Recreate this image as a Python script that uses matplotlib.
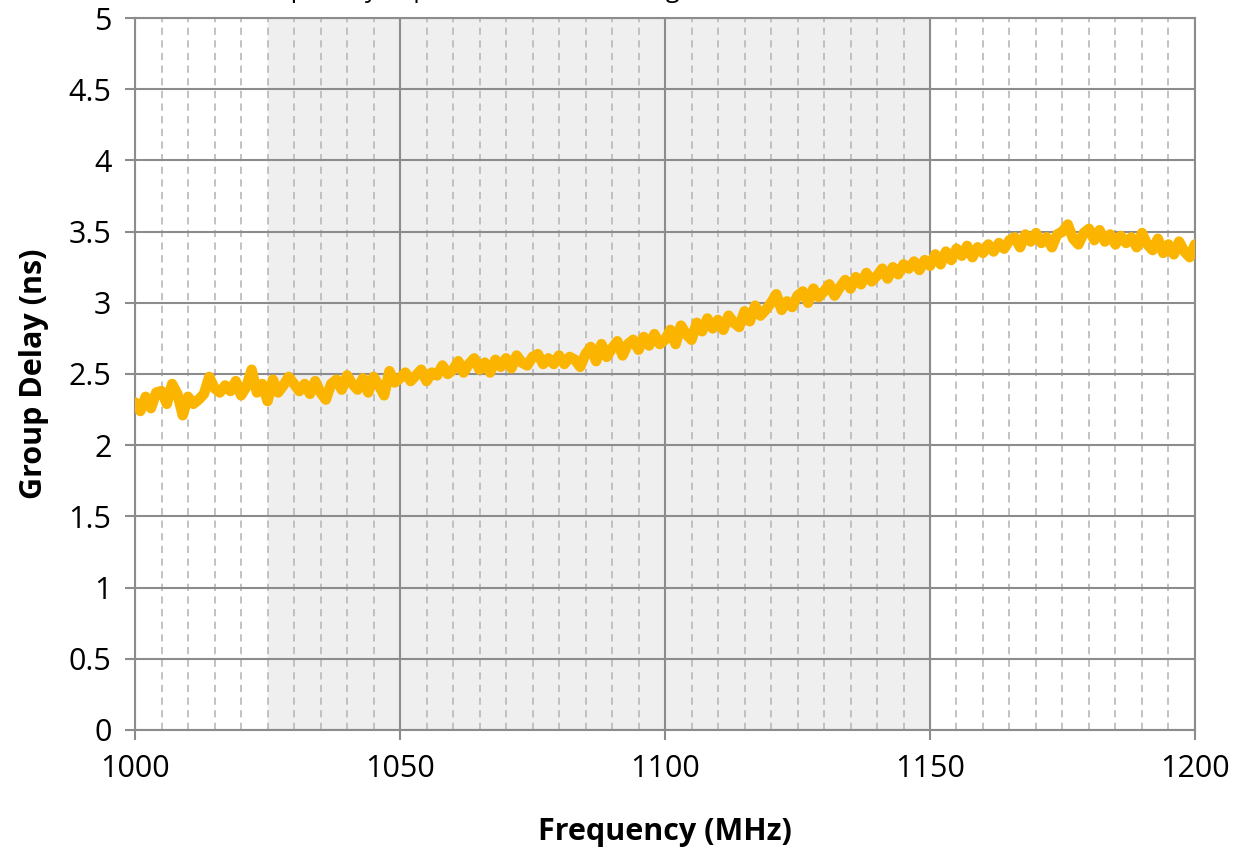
import numpy as np
import matplotlib.pyplot as plt
from matplotlib.ticker import MultipleLocator

plt.rcParams['font.family'] = ['Open Sans', 'DejaVu Sans']

# frequency axis, 1 MHz steps
freq = np.arange(1000, 1201, 1)

# group delay (ns)
delay = [
    2.30, 2.24, 2.34, 2.26, 2.37, 2.38, 2.29, 2.43, 2.36, 2.21,
    2.34, 2.29, 2.32, 2.36, 2.48, 2.40, 2.37, 2.42, 2.38, 2.45,
    2.35, 2.41, 2.53, 2.37, 2.43, 2.31, 2.46, 2.37, 2.42, 2.48,
    2.43, 2.38, 2.43, 2.36, 2.45, 2.37, 2.32, 2.43, 2.46, 2.39,
    2.49, 2.43, 2.39, 2.47, 2.37, 2.48, 2.42, 2.35, 2.52, 2.44,
    2.47, 2.51, 2.45, 2.49, 2.53, 2.45, 2.51, 2.49, 2.56, 2.50,
    2.53, 2.59, 2.51, 2.57, 2.61, 2.53, 2.58, 2.51, 2.60, 2.55,
    2.61, 2.54, 2.63, 2.58, 2.56, 2.62, 2.64, 2.57, 2.61, 2.57,
    2.63, 2.57, 2.62, 2.60, 2.55, 2.64, 2.69, 2.59, 2.71, 2.62,
    2.68, 2.73, 2.63, 2.71, 2.74, 2.67, 2.76, 2.70, 2.78, 2.71,
    2.74, 2.81, 2.71, 2.84, 2.78, 2.74, 2.86, 2.80, 2.89, 2.82,
    2.88, 2.81, 2.91, 2.86, 2.83, 2.94, 2.87, 2.98, 2.91, 2.95,
    3.00, 3.06, 2.95, 3.01, 2.97, 3.05, 3.08, 3.00, 3.10, 3.04,
    3.08, 3.13, 3.05, 3.11, 3.16, 3.10, 3.18, 3.13, 3.21, 3.15,
    3.19, 3.24, 3.17, 3.25, 3.20, 3.27, 3.24, 3.29, 3.23, 3.30,
    3.26, 3.34, 3.27, 3.36, 3.30, 3.38, 3.33, 3.40, 3.32, 3.39,
    3.35, 3.41, 3.36, 3.42, 3.38, 3.44, 3.46, 3.39, 3.48, 3.43,
    3.49, 3.42, 3.46, 3.39, 3.48, 3.50, 3.55, 3.45, 3.41, 3.49,
    3.52, 3.44, 3.51, 3.43, 3.48, 3.41, 3.47, 3.42, 3.46, 3.39,
    3.49, 3.41, 3.37, 3.45, 3.35, 3.41, 3.34, 3.43, 3.36, 3.32,
    3.41,
]

band = (1025, 1150)  # shaded passband

fig = plt.figure(figsize=(12.4, 8.5), dpi=100)
ax = fig.add_axes([0.1089, 0.1412, 0.8548, 0.8376])

ax.axvspan(band[0], band[1], color='#efefef', zorder=0)

ax.set_xlim(1000, 1200)
ax.set_ylim(0, 5)
ax.xaxis.set_major_locator(MultipleLocator(50))
ax.xaxis.set_minor_locator(MultipleLocator(5))
ax.set_yticks(np.arange(0, 5.01, 0.5))
ax.set_yticklabels(['0', '0.5', '1', '1.5', '2', '2.5', '3', '3.5', '4', '4.5', '5'])

ax.grid(which='major', color='#8c8c8c', linewidth=1.5, zorder=1)
ax.grid(which='minor', axis='x', color='#bdbdbd', linewidth=1.3,
        linestyle=(0, (4, 3)), zorder=1)
ax.set_axisbelow(True)

for s in ax.spines.values():
    s.set_color('#8c8c8c')
    s.set_linewidth(1.5)

ax.tick_params(which='major', direction='out', length=7, width=1.5,
               color='#8c8c8c', labelsize=22, pad=10)
ax.tick_params(which='minor', length=0)

ax.plot(freq, delay, color='#fbb400', linewidth=7.5, solid_joinstyle='round',
        solid_capstyle='round', zorder=3)

ax.set_xlabel('Frequency (MHz)', fontsize=22, fontweight='bold', labelpad=24)
ax.set_ylabel('Group Delay (ns)', fontsize=22, fontweight='bold', labelpad=14)

# title cut off at the top edge in the original
fig.text(0.395, 1.003, 'Group Delay, Equalizer On, Cable Length 1m',
         ha='center', va='baseline', fontsize=18)

fig.savefig('out.png', dpi=100)
